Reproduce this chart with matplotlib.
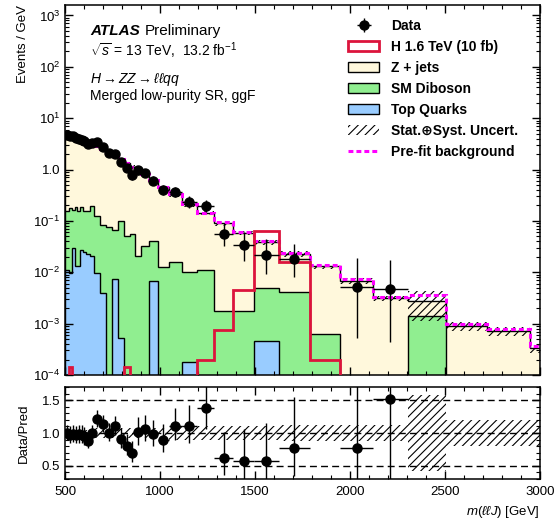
import numpy as np
import matplotlib
matplotlib.use('Agg')
import matplotlib.pyplot as plt
from matplotlib.ticker import FixedLocator, FuncFormatter, MultipleLocator, LogLocator, NullFormatter
from matplotlib.lines import Line2D
from matplotlib.patches import Patch

plt.rcParams['font.family'] = ['Liberation Sans', 'DejaVu Sans']
plt.rcParams['mathtext.fontset'] = 'custom'
plt.rcParams['mathtext.rm'] = 'Liberation Sans'
plt.rcParams['mathtext.it'] = 'Liberation Sans:italic'
plt.rcParams['mathtext.bf'] = 'Liberation Sans:bold'
plt.rcParams['hatch.linewidth'] = 0.8
plt.rcParams['hatch.color'] = 'black'
plt.rcParams['axes.linewidth'] = 1.1

# ---------------- data (events / GeV) ----------------
bin_edges = [500, 520, 535, 550, 565, 580, 595, 610, 630, 655, 685, 715, 745, 780,
             810, 840, 870, 900, 940, 990, 1045, 1115, 1195, 1285, 1385, 1495, 1625,
             1790, 1950, 2120, 2305, 2505, 2720, 2950, 3000]

top_quarks = [0.011, 0.0095, 0.030, 0.0133, 0.0133, 0.027, 0.025, 0.0225, 0.0208, 0.0098,
              0.0040, 0, 0.0075, 0.00053, 0, 0, 0, 0, 0.0068, 0,
              0, 0.00018, 0, 0, 0, 0.00045, 0, 0, 0, 0,
              0, 0, 0, 0]

sm_diboson = [0.146, 0.168, 0.13, 0.175, 0.144, 0.161, 0.132, 0.135, 0.176, 0.116,
              0.080, 0.0744, 0.0585, 0.0995, 0.051, 0.055, 0.021, 0.0327, 0.033, 0.0124,
              0.0157, 0.0101, 0.011, 0.00177, 0.00177, 0.00455, 0.0041, 0.00062, 0, 0,
              0.0014, 0, 0, 0]

z_jets = [4.54, 4.42, 4.34, 4.11, 3.94, 3.71, 3.59, 3.34, 3.05, 2.72,
          2.37, 2.03, 1.73, 1.45, 1.27, 1.065, 0.929, 0.767, 0.58, 0.438,
          0.314, 0.20, 0.131, 0.0882, 0.0562, 0.033, 0.0189, 0.0124, 0.0068, 0.0031,
          0.0013, 0.0009, 0.00072, 0.00034]

prefit_bkg = [4.79, 4.69, 4.59, 4.39, 4.18, 3.98, 3.83, 3.57, 3.32, 2.91,
              2.50, 2.14, 1.84, 1.58, 1.35, 1.14, 0.97, 0.82, 0.63, 0.46,
              0.335, 0.212, 0.145, 0.094, 0.061, 0.040, 0.024, 0.0138, 0.0073, 0.0033,
              0.0036, 0.00097, 0.00078, 0.00037]

signal_h16 = [0, 0.00014, 0, 0, 0, 0, 0, 0, 0, 0,
              0, 0, 0, 0, 0.00014, 0, 0, 0, 0, 0,
              0, 0.00009, 0.0002, 0.00075, 0.0045, 0.064, 0.0155, 0.0002, 0, 0,
              0, 0, 0, 0]

data_vals = [4.70, 4.46, 4.41, 4.17, 4.02, 3.78, 3.56, 3.08, 3.25, 3.45,
             2.79, 2.12, 1.98, 1.41, 1.07, 0.784, 0.96, 0.848, 0.608, 0.405,
             0.366, 0.233, 0.197, 0.0558, 0.0336, 0.0217, 0.0179, 0, 0.0052, 0.0047,
             0, 0, 0, 0]

rel_uncert = [0.05, 0.05, 0.05, 0.05, 0.05, 0.05, 0.05, 0.05, 0.05, 0.08,
              0.08, 0.08, 0.08, 0.08, 0.08, 0.08, 0.08, 0.08, 0.08, 0.08,
              0.10, 0.10, 0.10, 0.10, 0.10, 0.10, 0.12, 0.12, 0.12, 0.12,
              0.58, 0.20, 0.20, 0.20]

ratio_yticks = [0.5, 1.0, 1.5]
ratio_minor_yticks = [0.3, 0.4, 0.6, 0.7, 0.8, 0.9, 1.1, 1.2, 1.3, 1.4, 1.6, 1.7]

# ---------------- derived ----------------
edges = np.array(bin_edges, float)
widths = np.diff(edges)
centers = 0.5 * (edges[:-1] + edges[1:])
top = np.array(top_quarks)
dib = np.array(sm_diboson)
zj = np.array(z_jets)
total = top + dib + zj
pre = np.array(prefit_bkg)
sig = np.array(signal_h16)
dat = np.array(data_vals)
unc = np.array(rel_uncert)

floor = 1e-7
c_blue = np.maximum(top, floor)
c_green = np.maximum(top + dib, floor)
c_yellow = np.maximum(total, floor)

# Poisson-like asymmetric errors from event counts
N = dat * widths
err_up = (np.sqrt(N + 0.75) + 1.0) / widths
err_lo = np.where(N > 0, np.sqrt(np.maximum(N - 0.25, 0)) / widths, 0)
err_lo = np.minimum(err_lo, dat * 0.999)
m = dat > 0

col_z = '#fff8dc'
col_dib = '#90ee90'
col_top = '#99ccff'
col_sig = '#dc143c'

fig = plt.figure(figsize=(5.58, 5.23), dpi=100)
ax = fig.add_axes([0.1165, 0.2830, 0.8512, 0.7075])
ax2 = fig.add_axes([0.1165, 0.0841, 0.8512, 0.1759])

ax.set_yscale('log')
ax.stairs(c_yellow, edges, baseline=floor, fill=True, facecolor=col_z, edgecolor='black', linewidth=1.0, zorder=1)
ax.stairs(c_green, edges, baseline=floor, fill=True, facecolor=col_dib, edgecolor='black', linewidth=1.0, zorder=1.1)
ax.stairs(c_blue, edges, baseline=floor, fill=True, facecolor=col_top, edgecolor='black', linewidth=1.0, zorder=1.2)

ax.bar(centers, total * 2 * unc, bottom=total * (1 - unc), width=widths, fill=False,
       hatch='////', edgecolor='black', linewidth=0, zorder=2)

ax.stairs(pre, edges, baseline=None, color='magenta', linestyle=(0, (1.6, 1.0)), linewidth=2.2, zorder=3)
ax.stairs(np.maximum(sig, floor), edges, baseline=None, color=col_sig, linewidth=2.0, zorder=3.5)

eb = ax.errorbar(centers[m], dat[m], xerr=widths[m] / 2, yerr=[err_lo[m], err_up[m]], fmt='o',
                 color='black', ms=6.5, elinewidth=1.0, capsize=0, zorder=5)

ax.set_xlim(500, 3000)
ax.set_ylim(1e-4, 1.6e3)

def yfmt(v, pos):
    e = int(round(np.log10(v)))
    return '1.0' if e == 0 else r'$10^{%d}$' % e

ax.yaxis.set_major_locator(LogLocator(base=10, numticks=20))
ax.yaxis.set_minor_locator(LogLocator(base=10, subs=np.arange(2, 10), numticks=20))
ax.yaxis.set_major_formatter(FuncFormatter(yfmt))
ax.yaxis.set_minor_formatter(NullFormatter())
ax.xaxis.set_major_locator(MultipleLocator(500))
ax.xaxis.set_minor_locator(MultipleLocator(100))
ax.tick_params(axis='x', labelbottom=False)

for a in (ax, ax2):
    a.tick_params(which='both', direction='in', top=True, right=True, labelsize=9.5)
    a.tick_params(which='major', length=5.5, width=1.0)
    a.tick_params(which='minor', length=3, width=0.8)
    a.tick_params(axis='x', pad=5)

ax.set_ylabel('Events / GeV', fontsize=9.5, loc='top')

# text
ax.text(0.0526, 0.919, 'ATLAS', transform=ax.transAxes, fontsize=11, fontweight='bold',
        fontstyle='italic', va='baseline', ha='left')
ax.text(0.168, 0.919, 'Preliminary', transform=ax.transAxes, fontsize=11, va='baseline', ha='left')
ax.text(0.0526, 0.862, r'$\sqrt{s}$ = 13 TeV,  13.2 fb$^{-1}$', transform=ax.transAxes,
        fontsize=10, va='baseline', ha='left')
ax.text(0.0526, 0.790, r'$H \rightarrow ZZ \rightarrow \ell\ell qq$', transform=ax.transAxes,
        fontsize=10, va='baseline', ha='left')
ax.text(0.0526, 0.742, 'Merged low-purity SR, ggF', transform=ax.transAxes,
        fontsize=10, va='baseline', ha='left')

# legend
handles = [eb,
           Patch(facecolor='white', edgecolor=col_sig, linewidth=2),
           Patch(facecolor=col_z, edgecolor='black', linewidth=1),
           Patch(facecolor=col_dib, edgecolor='black', linewidth=1),
           Patch(facecolor=col_top, edgecolor='black', linewidth=1),
           Patch(facecolor='none', edgecolor='black', hatch='////', linewidth=0),
           Line2D([], [], color='magenta', linestyle=(0, (1.6, 1.0)), linewidth=2.2)]
labels = ['Data', 'H 1.6 TeV (10 fb)', 'Z + jets', 'SM Diboson', 'Top Quarks',
          'Stat.\u2295Syst. Uncert.', 'Pre-fit background']
leg = ax.legend(handles, labels, loc='upper left', bbox_to_anchor=(0.596, 0.962),
                frameon=False, borderpad=0, borderaxespad=0, handlelength=2.23,
                handletextpad=0.86, labelspacing=0.5,
                prop={'size': 10, 'weight': 'bold'})

# ratio panel
rat = np.where(m, dat / total, np.nan)
r_up = err_up / total
r_lo = err_lo / total
ax2.bar(centers, 2 * unc, bottom=1 - unc, width=widths, fill=False, hatch='////',
        edgecolor='black', linewidth=0, zorder=2)
for yv in ratio_yticks:
    ax2.axhline(yv, color='black', linestyle=(0, (5, 3)), linewidth=1.0, zorder=3)
ax2.errorbar(centers[m], rat[m], xerr=widths[m] / 2, yerr=[r_lo[m], r_up[m]], fmt='o',
             color='black', ms=6.5, elinewidth=1.0, capsize=0, zorder=5)
ax2.set_xlim(500, 3000)
ax2.set_ylim(0.3, 1.7)
ax2.yaxis.set_major_locator(FixedLocator(ratio_yticks))
ax2.yaxis.set_major_formatter(FuncFormatter(lambda v, p: '%.1f' % v))
ax2.yaxis.set_minor_locator(FixedLocator(ratio_minor_yticks))
ax2.yaxis.set_minor_formatter(NullFormatter())
ax2.xaxis.set_major_locator(MultipleLocator(500))
ax2.xaxis.set_minor_locator(MultipleLocator(100))
ax2.xaxis.set_minor_formatter(NullFormatter())
ax2.set_ylabel('Data/Pred', fontsize=9.5)
ax2.set_xlabel(r'$m(\ell\ell J)$ [GeV]', fontsize=9.5, loc='right')

ax.yaxis.set_label_coords(-0.075, 1.0)
ax2.yaxis.set_label_coords(-0.075, 0.5)

fig.savefig('out.png', dpi=100)
